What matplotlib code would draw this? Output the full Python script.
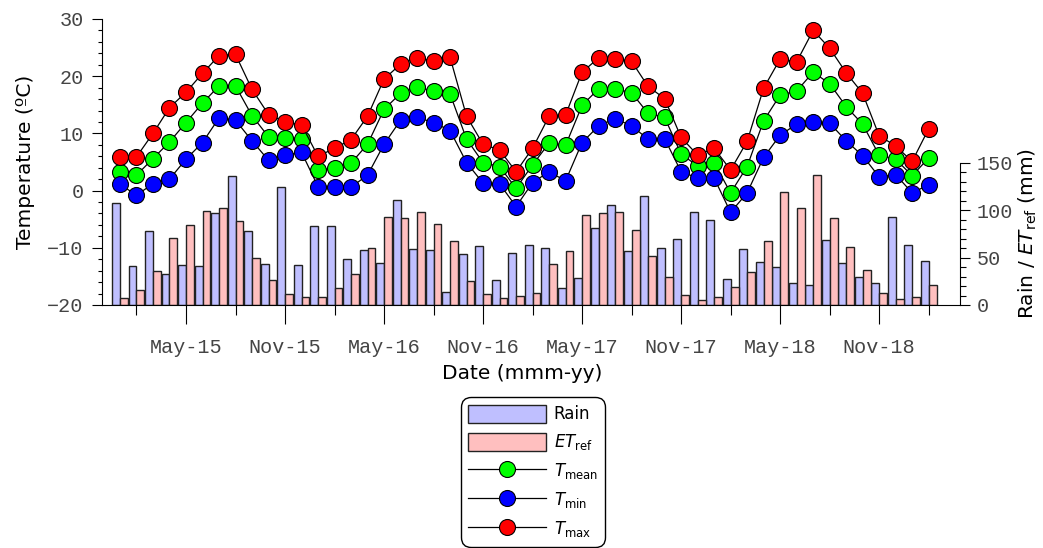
import numpy as np
import matplotlib
matplotlib.use("Agg")
import matplotlib.pyplot as plt
from matplotlib.lines import Line2D
from matplotlib.patches import Patch
from matplotlib.ticker import MultipleLocator, FixedLocator, FixedFormatter


# monthly values, Jan-15 .. Feb-19
t_max = [5.8, 5.9, 10.0, 14.5, 17.2, 20.5, 23.6, 23.8, 17.7, 13.3, 12.0, 11.5,
         6.0, 7.4, 8.9, 13.0, 19.5, 22.1, 23.2, 22.7, 23.3, 13.0, 8.1, 7.1,
         3.3, 7.4, 13.0, 13.2, 20.7, 23.2, 23.0, 22.6, 18.2, 16.1, 9.3, 6.2,
         7.4, 3.6, 8.6, 17.9, 23.0, 22.5, 28.0, 24.9, 20.6, 17.0, 9.6, 7.8,
         5.1, 10.8]
t_mean = [3.3, 2.7, 5.6, 8.5, 11.9, 15.3, 18.3, 18.3, 13.1, 9.4, 9.2, 9.1,
          3.6, 3.9, 4.8, 8.1, 14.2, 17.0, 18.1, 17.4, 16.9, 9.0, 4.9, 4.2,
          0.4, 4.5, 8.3, 7.9, 14.9, 17.8, 17.8, 17.1, 13.5, 12.8, 6.4, 4.3,
          4.9, -0.4, 4.2, 12.2, 16.7, 17.4, 20.7, 18.7, 14.7, 11.6, 6.2, 5.5,
          2.6, 5.7]
t_min = [1.1, -0.8, 1.2, 2.0, 5.5, 8.4, 12.7, 12.3, 8.7, 5.3, 6.2, 6.7,
         0.7, 0.6, 0.6, 2.7, 8.1, 12.3, 12.8, 11.9, 10.5, 4.9, 1.3, 1.2,
         -2.8, 1.4, 3.3, 1.7, 8.4, 11.3, 12.6, 11.3, 9.0, 9.1, 3.3, 2.2,
         2.2, -3.8, -0.4, 5.8, 9.7, 11.6, 12.0, 11.8, 8.7, 6.1, 2.4, 2.8,
         -0.4, 1.0]
rain = [108, 41.5, 77.7, 32.3, 41.8, 41.5, 97.5, 135.8, 78, 42.9, 124.5, 41.8,
        83.3, 83.3, 48.6, 57.8, 44, 111, 59.2, 58.5, 14.2, 53.9, 62, 26.6,
        55, 63.5, 60.3, 17.7, 28.4, 81.6, 105.3, 57.4, 115.2, 60.3, 69.9, 98.6,
        89.7, 27.3, 59.2, 45.4, 39.7, 23.4, 21.3, 69.1, 44.3, 29.4, 23.0, 93.3,
        63.8, 46.1]
et_ref = [7.4, 16, 35.5, 71, 84, 99.6, 102, 88.6, 49.6, 26.6, 12, 8.9,
          8.2, 17.7, 32.6, 60.3, 92.9, 92.2, 98.6, 85.8, 67.7, 25.2, 11.3, 7.4,
          9.6, 13.1, 43.3, 57.4, 95.0, 97.5, 98.2, 78.7, 51.4, 29.4, 10.6, 5.0,
          8.0, 19.5, 34.4, 68.1, 118.8, 102.5, 137.2, 92.2, 61.3, 37.2, 12.8, 6.4,
          8.2, 21.6]

tick_months = [4, 10, 16, 22, 28, 34, 40, 46]
minor_months = [1, 7, 13, 19, 25, 31, 37, 43, 49]
tick_labels = ["May-15", "Nov-15", "May-16", "Nov-16",
               "May-17", "Nov-17", "May-18", "Nov-18"]

RAIN_COLOR = "#bfbfff"
ET_COLOR = "#ffbfbf"
TICK_COLOR = "#444444"
MONO = "Liberation Mono"

plt.rcParams["font.family"] = "DejaVu Sans"
plt.rcParams["mathtext.fontset"] = "dejavusans"

W, H = 1043, 548
fig = plt.figure(figsize=(W / 100, H / 100), dpi=100)
ax = fig.add_axes([102 / W, 243 / H, 858 / W, 286 / H])
ax2 = ax.twinx()
ax.set_zorder(ax2.get_zorder() + 1)
ax.patch.set_visible(False)

x = np.arange(len(t_max))
bw = 0.48
ax2.bar(x, rain, width=-bw, align="edge", color=RAIN_COLOR,
        edgecolor="#222222", linewidth=1.0)
ax2.bar(x, et_ref, width=bw, align="edge", color=ET_COLOR,
        edgecolor="#222222", linewidth=1.0)

series = [(t_mean, "#00ff00"), (t_min, "#0000ff"), (t_max, "#ff0000")]
for vals, col in series:
    ax.plot(x, vals, color="black", lw=0.9, marker="o", ms=11.5,
            mfc=col, mec="black", mew=0.8)

ax.set_xlim(-1.09, 50.9)
ax.set_ylim(-20, 30)
ax2.set_ylim(0, 302)

# left axis
ax.spines["top"].set_visible(False)
ax.spines["right"].set_visible(False)
ax.yaxis.set_major_locator(MultipleLocator(10))
ax.yaxis.set_minor_locator(MultipleLocator(2))
ax.tick_params(axis="y", which="major", length=7.2, width=0.8, pad=6)
ax.tick_params(axis="y", which="minor", length=3, width=0.8)

# date axis
ax.xaxis.set_major_locator(FixedLocator(tick_months))
ax.xaxis.set_major_formatter(FixedFormatter(tick_labels))
ax.xaxis.set_minor_locator(FixedLocator(minor_months))
ax.tick_params(axis="x", which="major", length=13.7, width=0.8, pad=10)
ax.tick_params(axis="x", which="minor", length=7.2, width=0.8)

for lbl in ax.get_xticklabels() + ax.get_yticklabels():
    lbl.set_fontfamily(MONO)
    lbl.set_fontsize(14.5)
    lbl.set_color(TICK_COLOR)

# right axis only spans 0-150 mm
for side in ("top", "left", "bottom"):
    ax2.spines[side].set_visible(False)
ax2.spines["right"].set_bounds(0, 150)
ax2.yaxis.set_major_locator(FixedLocator([0, 50, 100, 150]))
ax2.yaxis.set_minor_locator(FixedLocator(np.arange(0, 151, 10)))
ax2.tick_params(axis="y", which="major", length=7.2, width=0.8, pad=5)
ax2.tick_params(axis="y", which="minor", length=4.3, width=0.8)
for lbl in ax2.get_yticklabels():
    lbl.set_fontfamily(MONO)
    lbl.set_fontsize(14.5)
    lbl.set_color(TICK_COLOR)

ax.set_xlabel("Date (mmm-yy)", fontsize=14.5)
ax.xaxis.set_label_coords(0.49, -0.205)
ax.set_ylabel("Temperature (ºC)", fontsize=14.5)
ax.yaxis.set_label_coords(-0.078, 0.5)
ax2.set_ylabel(r"Rain / $\mathit{ET}_{\mathrm{ref}}$ (mm)", fontsize=14.5)
ax2.yaxis.set_label_coords(1.066, 0.25)

handles = [
    Patch(facecolor=RAIN_COLOR, edgecolor="#222222", linewidth=1.0),
    Patch(facecolor=ET_COLOR, edgecolor="#222222", linewidth=1.0),
]
for vals, col in series:
    handles.append(Line2D([], [], color="black", lw=0.9, marker="o", ms=11.5,
                          mfc=col, mec="black", mew=0.8))
labels = ["Rain", r"$\mathit{ET}_{\mathrm{ref}}$", r"$\mathit{T}_{\mathrm{mean}}$",
          r"$\mathit{T}_{\mathrm{min}}$", r"$\mathit{T}_{\mathrm{max}}$"]
leg = fig.legend(handles, labels, loc="upper center",
                 bbox_to_anchor=(533 / W, 1 - 397 / H), fontsize=12,
                 handlelength=4.7, handleheight=1.3, handletextpad=0.45,
                 labelspacing=0.54, borderpad=0.45, borderaxespad=0,
                 fancybox=True, framealpha=1, edgecolor="black")
frame = leg.get_frame()
frame.set_linewidth(1.0)
frame.set_boxstyle("round", pad=0, rounding_size=0.6)

fig.savefig("out.png", dpi=100)
